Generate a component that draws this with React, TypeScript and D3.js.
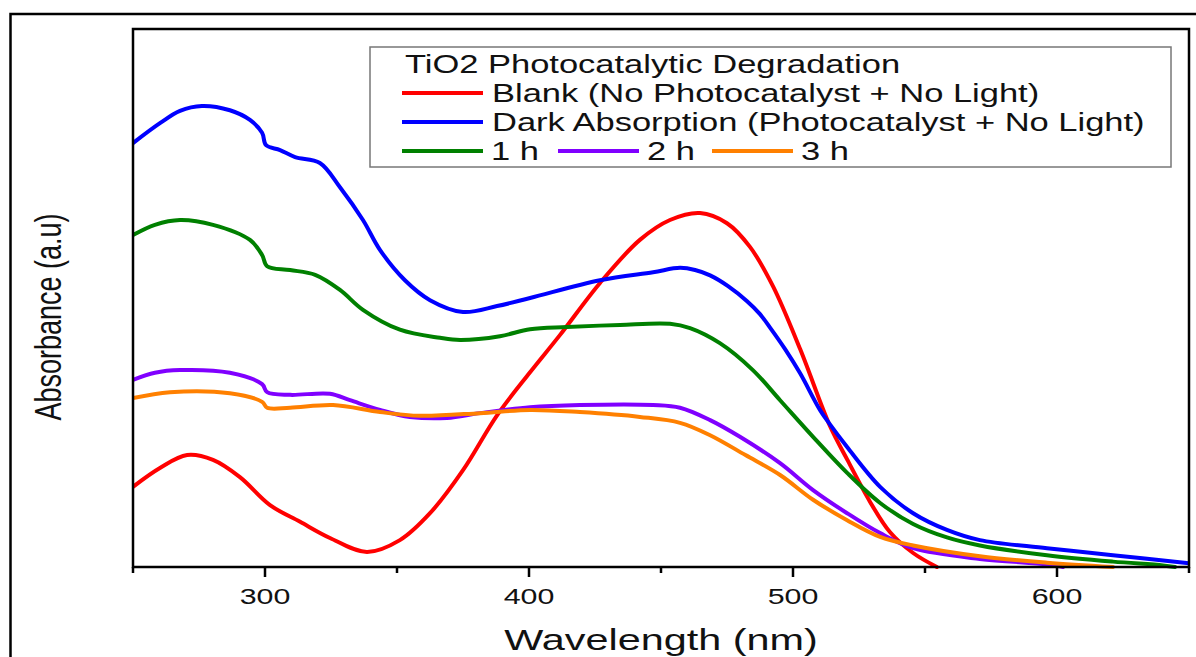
import React from 'react';
import * as d3 from 'd3';

const blankWl = [250, 260.2, 270.5, 280.3, 290.5, 301.9, 313.3, 324.6, 338.6, 351.1, 362.5, 375, 387.9, 400.4, 411.7, 426.9, 442, 453.4, 464.8, 475, 483.7, 492.4, 502.7, 514, 520.5, 529.2, 536.7, 545.5, 554.5];
const blankAbs = [0.149, 0.184, 0.208, 0.199, 0.167, 0.115, 0.084, 0.054, 0.028, 0.05, 0.1, 0.18, 0.282, 0.362, 0.431, 0.528, 0.608, 0.645, 0.658, 0.639, 0.595, 0.522, 0.405, 0.262, 0.2, 0.121, 0.065, 0.026, 0];

const darkWl = [250, 260.2, 267.8, 276.1, 286.7, 294.3, 298.9, 300.4, 305.7, 311.4, 320.8, 328.4, 337.1, 343.6, 353, 362.5, 375, 387.9, 400.4, 426.9, 447, 457.2, 462.9, 468.6, 475.4, 482.6, 487.5, 491.3, 497, 502.7, 510.2, 514, 520.5, 533, 545.5, 558.3, 570.8, 596.2, 621.2, 650];
const darkAbs = [0.788, 0.825, 0.848, 0.857, 0.849, 0.831, 0.807, 0.784, 0.775, 0.762, 0.751, 0.706, 0.645, 0.589, 0.533, 0.496, 0.474, 0.485, 0.5, 0.533, 0.548, 0.556, 0.552, 0.542, 0.522, 0.494, 0.47, 0.445, 0.405, 0.36, 0.292, 0.265, 0.223, 0.149, 0.1, 0.069, 0.05, 0.035, 0.022, 0.007];

const h1Wl = [250, 258.3, 267.8, 280.3, 294.3, 298.9, 300.8, 309.5, 319, 328.4, 337.1, 351.1, 366.3, 373.9, 389, 400.4, 414.4, 434.5, 453.4, 461, 472.3, 484.8, 495.1, 507.6, 520.5, 533, 545.5, 558.3, 570.8, 596.2, 621.2, 640.2, 644.7];
const h1Abs = [0.617, 0.636, 0.645, 0.636, 0.608, 0.58, 0.559, 0.552, 0.543, 0.515, 0.478, 0.441, 0.426, 0.422, 0.429, 0.442, 0.446, 0.45, 0.452, 0.444, 0.416, 0.366, 0.31, 0.242, 0.175, 0.119, 0.08, 0.055, 0.04, 0.022, 0.01, 0.003, 0];

const h2Wl = [250, 258.3, 267.8, 286.7, 298.9, 300.8, 309.5, 324.6, 332.2, 343.6, 354.9, 368.9, 381.4, 400.4, 419.3, 447, 457.2, 468.6, 479.9, 495.1, 507.6, 520.5, 533, 545.5, 570.8, 596.2, 602.3];
const h2Abs = [0.348, 0.361, 0.366, 0.361, 0.34, 0.325, 0.32, 0.322, 0.31, 0.292, 0.279, 0.277, 0.286, 0.297, 0.301, 0.301, 0.296, 0.273, 0.242, 0.193, 0.143, 0.1, 0.063, 0.035, 0.015, 0.005, 0];

const h3Wl = [250, 264, 286.7, 298.9, 300.8, 309.5, 325.8, 343.6, 358.7, 381.4, 400.4, 419.3, 442, 457.2, 468.6, 482, 495.1, 507.6, 520.5, 533, 545.5, 570.8, 596.2, 621.2];
const h3Abs = [0.314, 0.325, 0.323, 0.307, 0.296, 0.296, 0.301, 0.288, 0.281, 0.286, 0.292, 0.288, 0.279, 0.268, 0.245, 0.208, 0.171, 0.125, 0.087, 0.056, 0.04, 0.02, 0.008, 0];

const seriesNames = ['Blank (No Photocatalyst + No Light)', 'Dark Absorption (Photocatalyst + No Light)', '1 h', '2 h', '3 h'];
const seriesColors = ['#ff0000', '#0000ff', '#008000', '#8000ff', '#ff8000'];
const legendTitle = 'TiO2 Photocatalytic Degradation';
const xTicks = [300, 400, 500, 600];
const minorTicks = [250, 350, 450, 550, 650];
const xLabel = 'Wavelength (nm)';
const yLabel = 'Absorbance (a.u)';

const W = 1196;
const H = 657;
const SX = 1.38;
const FONT = '"Liberation Sans", Arial, sans-serif';
const plot = { left: 133, right: 1189, top: 29, bottom: 567 };

export default function App() {
  const x = d3.scaleLinear().domain([250, 650]).range([plot.left, plot.right]);
  const y = d3.scaleLinear().domain([0, 1]).range([plot.bottom, plot.top]);
  const line = d3
    .line<[number, number]>()
    .x((d) => x(d[0]))
    .y((d) => y(d[1]))
    .curve(d3.curveCatmullRom.alpha(0.5));

  const series = [
    [blankWl, blankAbs],
    [darkWl, darkAbs],
    [h1Wl, h1Abs],
    [h2Wl, h2Abs],
    [h3Wl, h3Abs],
  ].map(([wl, ab]) => wl.map((w, i) => [w, ab[i]] as [number, number]));

  const legendRows = [
    { y: 102, items: [{ idx: 0, lx: 402, tx: 492 }] },
    { y: 131, items: [{ idx: 1, lx: 402, tx: 492 }] },
    {
      y: 160,
      items: [
        { idx: 2, lx: 402, tx: 491 },
        { idx: 3, lx: 558, tx: 647 },
        { idx: 4, lx: 712, tx: 801 },
      ],
    },
  ];

  return (
    <svg
      width={W}
      height={H}
      style={{ position: 'absolute', left: 0, top: 0, display: 'block', background: '#fff' }}
      fontFamily={FONT}
    >
      <rect x={0} y={0} width={W} height={H} fill="#fff" />
      <path d={`M10.5,${H + 5} L10.5,14 L${W + 5},14`} fill="none" stroke="#000" strokeWidth={2.5} />

      <defs>
        <clipPath id="plotclip">
          <rect x={plot.left} y={plot.top} width={plot.right - plot.left} height={plot.bottom - plot.top + 2} />
        </clipPath>
      </defs>

      <g clipPath="url(#plotclip)">
        {series.map((pts, i) => (
          <path key={i} d={line(pts) || ''} fill="none" stroke={seriesColors[i]} strokeWidth={4} strokeLinejoin="round" strokeLinecap="round" />
        ))}
      </g>

      <rect
        x={plot.left}
        y={plot.top}
        width={plot.right - plot.left}
        height={plot.bottom - plot.top}
        fill="none"
        stroke="#000"
        strokeWidth={2.5}
      />

      {xTicks.map((t) => (
        <line key={'M' + t} x1={x(t)} x2={x(t)} y1={plot.bottom} y2={plot.bottom + 10} stroke="#000" strokeWidth={2.5} />
      ))}
      {minorTicks.map((t) => (
        <line key={'m' + t} x1={x(t)} x2={x(t)} y1={plot.bottom} y2={plot.bottom + 6} stroke="#000" strokeWidth={2.5} />
      ))}
      {xTicks.map((t) => (
        <text
          key={'l' + t}
          transform={`translate(${x(t)},604) scale(${SX},1)`}
          textAnchor="middle"
          fontSize={22}
          fill="#111"
        >
          {t}
        </text>
      ))}

      <text transform={`translate(${(plot.left + plot.right) / 2},650) scale(${SX},1)`} textAnchor="middle" fontSize={30} fill="#111">
        {xLabel}
      </text>
      <text transform={`translate(61,317) scale(${SX},1) rotate(-90)`} textAnchor="middle" fontSize={27} fill="#111">
        {yLabel}
      </text>

      <rect x={370} y={47} width={801} height={120} fill="#fff" stroke="#777" strokeWidth={1.5} />
      <text transform={`translate(405,73) scale(${SX},1)`} fontSize={25} fill="#111">
        {legendTitle}
      </text>
      {legendRows.map((row, ri) =>
        row.items.map((it) => (
          <g key={ri + '-' + it.idx}>
            <line x1={it.lx} x2={it.lx + 81} y1={row.y - 9} y2={row.y - 9} stroke={seriesColors[it.idx]} strokeWidth={4} />
            <text transform={`translate(${it.tx},${row.y}) scale(${SX},1)`} fontSize={25} fill="#111">
              {seriesNames[it.idx]}
            </text>
          </g>
        ))
      )}
    </svg>
  );
}
